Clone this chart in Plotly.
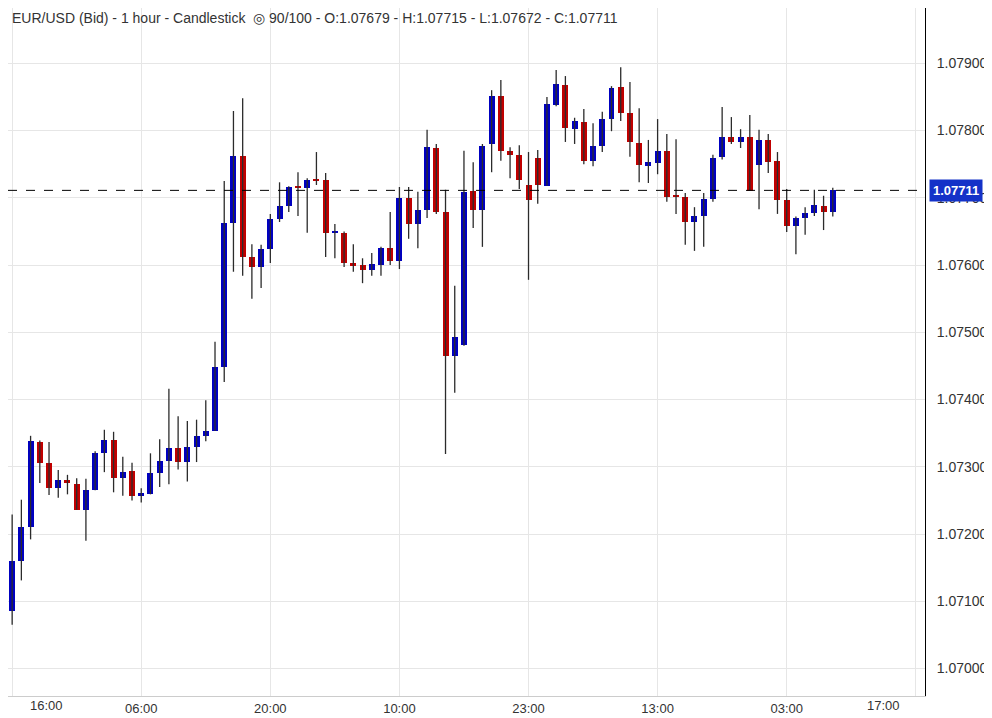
import plotly.graph_objects as go

opens = [1.07085,1.07160,1.07211,1.07337,1.07306,1.07269,1.07280,1.07274,1.07236,1.07265,
         1.07320,1.07340,1.07284,1.07294,1.07257,1.07259,1.07291,1.07309,1.07328,1.07307,
         1.07329,1.07346,1.07353,1.07448,1.07662,1.07762,1.07612,1.07597,1.07624,1.07668,
         1.07688,1.07717,1.07714,1.07728,1.07727,1.07648,1.07648,1.07603,1.07600,1.07593,
         1.07600,1.07625,1.07606,1.07700,1.07661,1.07682,1.07774,1.07679,1.07465,1.07481,
         1.07710,1.07682,1.07780,1.07851,1.07770,1.07764,1.07719,1.07759,1.07718,1.07838,
         1.07868,1.07803,1.07813,1.07755,1.07777,1.07817,1.07865,1.07826,1.07782,1.07747,
         1.07752,1.07770,1.07704,1.07701,1.07664,1.07673,1.07698,1.07760,1.07791,1.07783,
         1.07791,1.07749,1.07786,1.07755,1.07697,1.07658,1.07670,1.07677,1.07688,1.07679]
highs = [1.07229,1.07251,1.07346,1.07339,1.07337,1.07295,1.07288,1.07283,1.07282,1.07323,
         1.07355,1.07352,1.07315,1.07306,1.07268,1.07320,1.07341,1.07416,1.07375,1.07368,
         1.07370,1.07399,1.07486,1.07725,1.07829,1.07848,1.07631,1.07630,1.07676,1.07723,
         1.07717,1.07738,1.07729,1.07768,1.07737,1.07661,1.07650,1.07631,1.07610,1.07618,
         1.07627,1.07679,1.07716,1.07716,1.07709,1.07801,1.07780,1.07712,1.07569,1.07770,
         1.07753,1.07780,1.07860,1.07875,1.07775,1.07778,1.07768,1.07771,1.07850,1.07890,
         1.07881,1.07819,1.07832,1.07811,1.07828,1.07866,1.07894,1.07872,1.07833,1.07786,
         1.07817,1.07795,1.07787,1.07707,1.07686,1.07707,1.07764,1.07835,1.07820,1.07802,
         1.07823,1.07801,1.07795,1.07768,1.07713,1.07672,1.07686,1.07712,1.07703,1.07715]
lows = [1.07065,1.07131,1.07192,1.07276,1.07258,1.07254,1.07259,1.07236,1.07190,1.07265,
        1.07292,1.07262,1.07257,1.07250,1.07247,1.07259,1.07270,1.07274,1.07296,1.07278,
        1.07307,1.07338,1.07353,1.07426,1.07590,1.07584,1.07550,1.07566,1.07603,1.07664,
        1.07679,1.07673,1.07648,1.07719,1.07612,1.07610,1.07597,1.07590,1.07573,1.07584,
        1.07584,1.07600,1.07594,1.07639,1.07625,1.07670,1.07676,1.07319,1.07410,1.07480,
        1.07655,1.07627,1.07738,1.07755,1.07729,1.07713,1.07578,1.07691,1.07718,1.07836,
        1.07783,1.07780,1.07750,1.07747,1.07768,1.07799,1.07814,1.07761,1.07723,1.07722,
        1.07735,1.07694,1.07676,1.07630,1.07621,1.07627,1.07694,1.07757,1.07780,1.07774,
        1.07710,1.07683,1.07737,1.07676,1.07649,1.07616,1.07645,1.07673,1.07652,1.07672]
closes = [1.07160,1.07210,1.07338,1.07306,1.07269,1.07280,1.07276,1.07236,1.07265,1.07320,
          1.07340,1.07284,1.07292,1.07257,1.07261,1.07291,1.07309,1.07328,1.07307,1.07329,
          1.07346,1.07353,1.07448,1.07662,1.07762,1.07612,1.07597,1.07624,1.07668,1.07688,
          1.07716,1.07714,1.07726,1.07726,1.07648,1.07649,1.07603,1.07599,1.07593,1.07601,
          1.07625,1.07606,1.07700,1.07661,1.07682,1.07775,1.07679,1.07465,1.07493,1.07709,
          1.07682,1.07777,1.07851,1.07770,1.07764,1.07726,1.07697,1.07719,1.07839,1.07869,
          1.07804,1.07814,1.07755,1.07777,1.07817,1.07863,1.07826,1.07783,1.07749,1.07753,
          1.07770,1.07701,1.07702,1.07664,1.07673,1.07698,1.07759,1.07790,1.07783,1.07791,
          1.07710,1.07786,1.07753,1.07697,1.07658,1.07670,1.07677,1.07689,1.07679,1.07711]

tick_idx = [0, 14, 28, 42, 56, 70, 84, 98]
tick_labels = ["16:00<br>Feb/14/24", "06:00<br>Feb/15/24", "20:00", "10:00<br>Feb/16/24",
               "23:00<br>Feb/18/24", "13:00<br>Feb/19/24", "03:00<br>Feb/20/24", "17:00"]
last_price = 1.07711
title = "EUR/USD (Bid) - 1 hour - Candlestick  \u25CE 90/100 - O:1.07679 - H:1.07715 - L:1.07672 - C:1.07711"

UP, DOWN, WICK = "#0000c0", "#c00000", "#2b2b2b"
FONT = "Liberation Sans, Arial"
n = len(opens)
xs = list(range(n))

wx, wy = [], []
for i in xs:
    wx += [i, i, None]
    wy += [lows[i], highs[i], None]

base = [min(o, c) for o, c in zip(opens, closes)]
hgt = [max(abs(c - o), 0.000025) for o, c in zip(opens, closes)]
cols = [UP if c >= o else DOWN for o, c in zip(opens, closes)]

fig = go.Figure()
fig.add_trace(go.Scatter(x=wx, y=wy, mode="lines", line=dict(color=WICK, width=1.3),
                         hoverinfo="skip", showlegend=False))
fig.add_trace(go.Bar(x=xs, y=hgt, base=base, marker=dict(color=cols, line=dict(width=0)),
                     width=0.65, showlegend=False))

fig.add_shape(type="line", xref="paper", x0=0, x1=1, y0=last_price, y1=last_price,
              line=dict(color="black", width=1, dash="dash"))
fig.add_annotation(xref="paper", x=1.0, y=last_price, xanchor="left", yanchor="middle",
                   text="<b>%.5f</b>" % last_price, showarrow=False,
                   font=dict(color="white", size=13, family=FONT),
                   bgcolor="#1432c8", borderpad=3, xshift=4)
fig.add_annotation(xref="paper", yref="paper", x=0.0, y=1.0, xanchor="left", yanchor="top",
                   text=title, showarrow=False, yshift=0, xshift=2,
                   font=dict(color="#333", size=14, family=FONT))
lab_font = dict(color="#333", size=13, family=FONT)
for xi, txt in [(3.7, tick_labels[0]), (94.5, tick_labels[-1])]:
    fig.add_annotation(xref="x", yref="paper", x=xi, y=0, yanchor="top", xanchor="center",
                       text=txt, showarrow=False, yshift=0, font=lab_font)

fig.update_layout(
    width=992, height=718, margin=dict(l=0, r=75, t=0, b=30, pad=0, autoexpand=False),
    plot_bgcolor="white", paper_bgcolor="white", bargap=0,
    font=dict(family=FONT, size=13, color="#333"),
    xaxis=dict(range=[-0.45, 99.0], tickvals=tick_idx,
               ticktext=[""] + tick_labels[1:-1] + [""],
               showgrid=True, gridcolor="#e6e6e6", zeroline=False, automargin=False,
               showline=True, linecolor="#cccccc", ticks="", tickfont=dict(size=13),
               ticklabelstandoff=0),
    yaxis=dict(side="right", range=[1.069591, 1.079822], dtick=0.001, tick0=1.07,
               tickformat=".5f", showgrid=True, gridcolor="#e6e6e6", zeroline=False,
               automargin=False, showline=True, linecolor="black", ticks="",
               tickfont=dict(size=14), ticklabelstandoff=8),
)
fig.write_html("out.html")
